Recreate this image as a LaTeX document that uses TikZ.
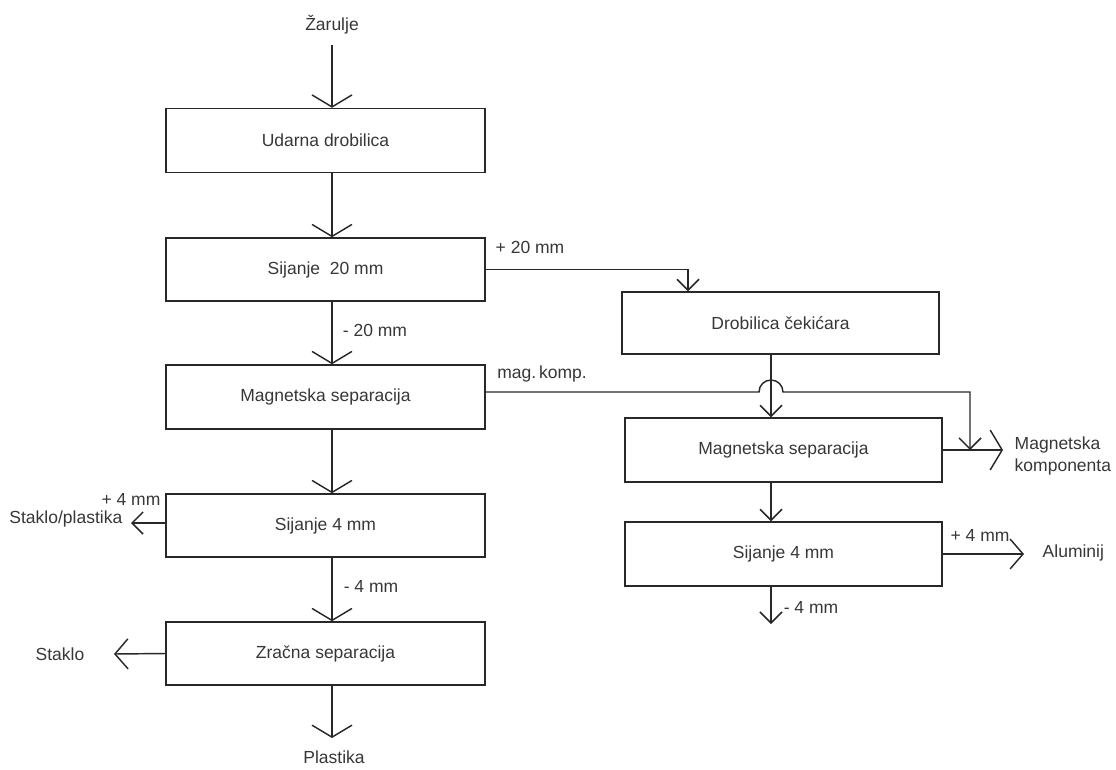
\documentclass[tikz,border=0pt]{standalone}
\usepackage{fontspec}
\setmainfont{Liberation Sans}
\usetikzlibrary{arrows.meta}
\definecolor{ink}{RGB}{40,40,40}
\definecolor{txt}{RGB}{55,55,55}

\begin{document}
\begin{tikzpicture}[x=1pt,y=-1pt,line width=1.45pt,draw=ink,text=txt,
  font=\fontsize{17.5}{22}\selectfont,
  box/.style={draw,minimum width=319pt,minimum height=64pt,inner sep=0pt},
  lbl/.style={inner sep=2pt},
  big/.style={-{Straight Barb[length=12pt,width=40pt]}},
  med/.style={-{Straight Barb[length=13pt,width=30pt]}},
  sml/.style={-{Straight Barb[length=11pt,width=22pt]}}]
  \useasboundingbox (0,0) rectangle (1116,769);
  \coordinate (lx) at (332,0);
  \coordinate (rx) at (771,0);
  \coordinate (dx) at (688,0);
  % left column
  \node[box] (udar) at (325.5,140.5) {Udarna drobilica};
  \node[box,minimum height=63pt] (sij20) at (325.5,269.5) {Sijanje \ 20 mm};
  \node[box] (mag1) at (325.5,397) {Magnetska separacija};
  \node[box,minimum height=63pt] (sij4l) at (325.5,525.5) {Sijanje 4 mm};
  \node[box,minimum height=63pt] (zrak) at (325.5,653.5) {Zračna separacija};
  % right column
  \node[box,minimum width=317pt,minimum height=62pt] (drob) at (780.5,323) {Drobilica čekićara};
  \node[box,minimum width=317pt] (mag2) at (783.5,450) {Magnetska separacija};
  \node[box,minimum width=317pt] (sij4r) at (783.5,554) {Sijanje 4 mm};
  % texts
  \node[lbl] (zar) at (332,25) {Žarulje};
  \node[lbl] (plast) at (334,757) {Plastika};
  \node[lbl] (m20) at (375,330) {- 20 mm};
  \node[lbl] (p20) at (530,247) {+ 20 mm};
  \node[lbl] (mk) at (542,374) {mag.\,komp.};
  \node[lbl] (p4l) at (131,499) {+ 4 mm};
  \node[lbl,anchor=east] (stpl) at (125,519) {Staklo/plastika};
  \node[lbl] (m4l) at (371,586) {- 4 mm};
  \node[lbl] (stak) at (60,654) {Staklo};
  \node[lbl,anchor=west,align=left] (magk) at (1012,456) {Magnetska\\komponenta};
  \node[lbl] (p4r) at (980,535) {+ 4 mm};
  \node[lbl,anchor=west] (alu) at (1040,553) {Aluminij};
  \node[lbl] (m4r) at (811,607) {- 4 mm};
  % free ends
  \coordinate (zarstart) at (332,45);
  \coordinate (plend) at (332,738);
  \coordinate (stplend) at (131,523);
  \coordinate (stakend) at (114,654);
  \coordinate (mjoin) at (970,450);
  \coordinate (mkend) at (1003,450);
  \coordinate (aluend) at (1024,554);
  \coordinate (m4end) at (771,624);
  % main flow
  \draw[big] (zarstart) -- (udar.north -| lx);
  \draw[big] (udar.south -| lx) -- (sij20.north -| lx);
  \draw[big] (sij20.south -| lx) -- (mag1.north -| lx);
  \draw[big] (mag1.south -| lx) -- (sij4l.north -| lx);
  \draw[big] (sij4l.south -| lx) -- (zrak.north -| lx);
  \draw[big] (zrak.south -| lx) -- (plend);
  \draw[sml] (sij4l.west |- stplend) -- (stplend);
  \draw[med] (zrak.west) -- (stakend);
  % right branch
  \draw[sml] (sij20.east) -| (drob.north -| dx);
  \draw[sml] (drob.south -| rx) -- (mag2.north -| rx);
  \draw[sml] ([yshift=5pt]mag1.east) -- (759,392)
    arc[start angle=180,end angle=360,radius=12] -- (970,392) -- (mjoin);
  \draw[big] (mag2.east) -- (mkend);
  \draw[sml] (mag2.south -| rx) -- (sij4r.north -| rx);
  \draw[med] (sij4r.east) -- (aluend);
  \draw[sml] (sij4r.south -| rx) -- (m4end);
\end{tikzpicture}
\end{document}
